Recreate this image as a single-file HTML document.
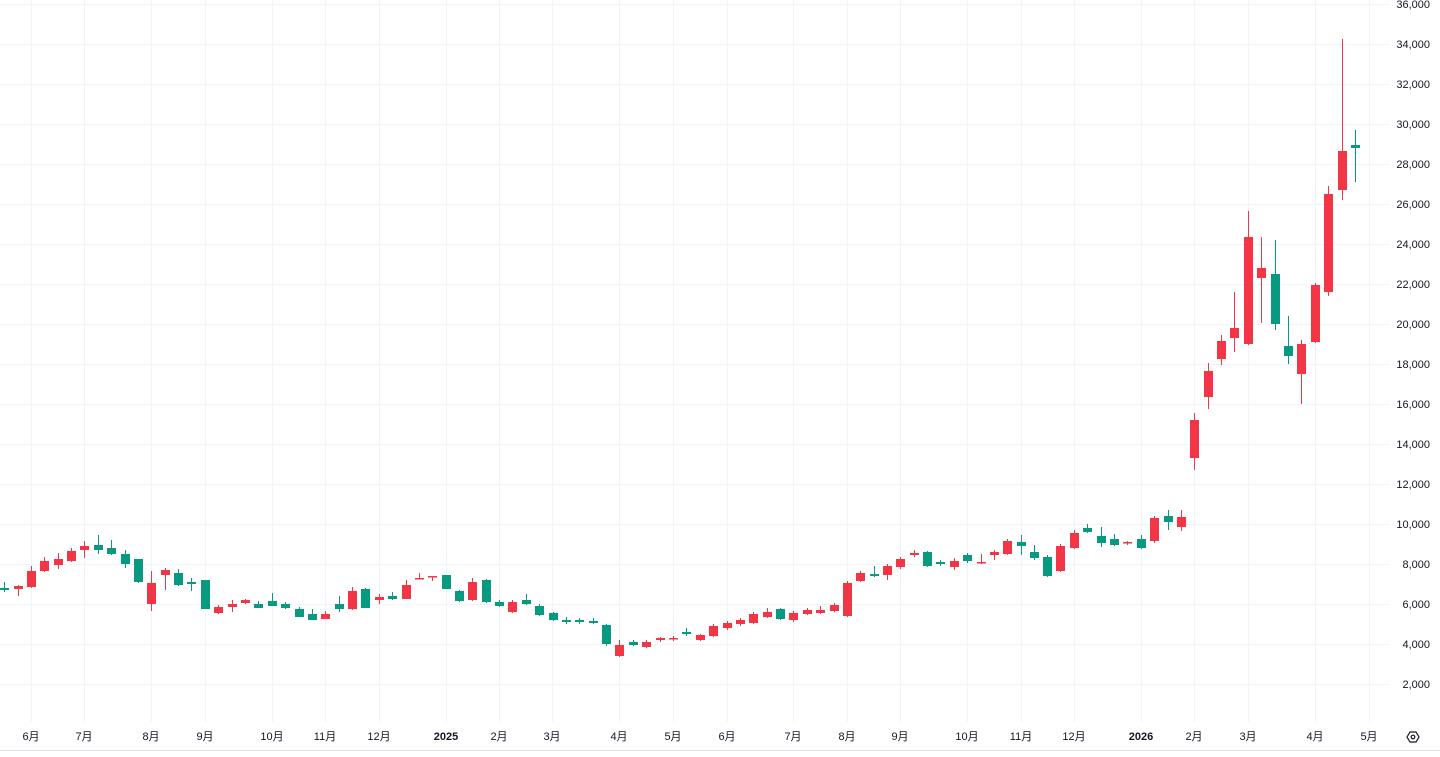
<!DOCTYPE html>
<html><head><meta charset="utf-8"><style>
html,body{margin:0;padding:0;background:#fff;width:1440px;height:757px;overflow:hidden}
svg{display:block}
text{font-family:"Liberation Sans","Noto Sans CJK SC",sans-serif;font-size:11px;fill:#131722}
</style></head><body>
<svg id="c" width="1440" height="757" xmlns="http://www.w3.org/2000/svg">
<g id="grid" stroke="#f0f3fa" stroke-width="1"></g>
<g id="candles"></g>
<line x1="0" y1="750.5" x2="1440" y2="750.5" stroke="#e0e3eb"/>
<g text-anchor="end">
<text x="1430" y="8">36,000</text><text x="1430" y="48">34,000</text><text x="1430" y="88">32,000</text>
<text x="1430" y="128">30,000</text><text x="1430" y="168">28,000</text><text x="1430" y="208">26,000</text>
<text x="1430" y="248">24,000</text><text x="1430" y="288">22,000</text><text x="1430" y="328">20,000</text>
<text x="1430" y="368">18,000</text><text x="1430" y="408">16,000</text><text x="1430" y="448">14,000</text>
<text x="1430" y="488">12,000</text><text x="1430" y="528">10,000</text><text x="1430" y="568">8,000</text>
<text x="1430" y="608">6,000</text><text x="1430" y="648">4,000</text><text x="1430" y="688">2,000</text>
</g>
<g text-anchor="middle">
<text x="31" y="740">6月</text><text x="84" y="740">7月</text><text x="151" y="740">8月</text>
<text x="205" y="740">9月</text><text x="272" y="740">10月</text><text x="325" y="740">11月</text>
<text x="379" y="740">12月</text><text x="446" y="740" font-weight="bold">2025</text><text x="499" y="740">2月</text>
<text x="552" y="740">3月</text><text x="619" y="740">4月</text><text x="673" y="740">5月</text>
<text x="727" y="740">6月</text><text x="793" y="740">7月</text><text x="847" y="740">8月</text>
<text x="900" y="740">9月</text><text x="967" y="740">10月</text><text x="1021" y="740">11月</text>
<text x="1074" y="740">12月</text><text x="1141" y="740" font-weight="bold">2026</text><text x="1194" y="740">2月</text>
<text x="1248" y="740">3月</text><text x="1315" y="740">4月</text><text x="1369" y="740">5月</text>
</g>
<polygon points="1407,737 1410,732 1416,732 1419,737 1416,742 1410,742" fill="none" stroke="#131722" stroke-width="1.2"/>
<circle cx="1413" cy="737" r="1.8" fill="none" stroke="#131722" stroke-width="1.2"/>
</svg>
<script>
var ns="http://www.w3.org/2000/svg";
var g=document.getElementById("grid");
function ln(p,x1,y1,x2,y2,c,w){var l=document.createElementNS(ns,"line");l.setAttribute("x1",x1);l.setAttribute("y1",y1);l.setAttribute("x2",x2);l.setAttribute("y2",y2);if(c)l.setAttribute("stroke",c);if(w)l.setAttribute("stroke-width",w);p.appendChild(l);}
for(var y=4;y<=684;y+=40)ln(g,0,y+.5,1390,y+.5);
[31,84,151,205,272,325,379,446,499,552,619,673,727,793,847,900,967,1021,1074,1141,1194,1248,1315,1369].forEach(function(x){ln(g,x+.5,0,x+.5,722);});
// x, bodyTop, bodyBot, wickTop, wickBot, up(1=red)
var d=[
[4,588,590,582,592,0],[18,586,589,585,596,1],[31,571,587,566,588,1],[44,561,571,557,572,1],[58,559,565,553,569,1],[71,551,561,548,562,1],
[84,546,550,541,558,1],[98,545,550,535,554,0],[111,548,554,540,555,0],[125,554,564,550,568,0],[138,559,582,559,583,0],[151,583,604,571,611,1],
[165,570,575,568,590,1],[178,573,585,569,586,0],[191,582,584,578,591,0],[205,580,609,580,609,0],[218,607,613,605,614,1],[232,604,607,600,612,1],
[245,600,603,599,604,1],[258,604,608,601,608,0],[272,601,606,593,606,0],[285,604,608,602,609,0],[299,609,617,607,617,0],[312,614,620,609,620,0],
[325,614,619,611,619,1],[339,604,609,596,612,0],[352,591,609,587,610,1],[365,589,608,588,608,0],[379,597,600,594,604,1],[392,596,599,592,600,0],
[406,585,599,580,599,1],[419,578,579,573,579,1],[432,576,577,576,581,1],[446,575,589,575,589,0],[459,591,601,590,602,0],[472,582,600,578,601,1],
[486,580,602,579,603,0],[499,602,606,600,607,0],[512,602,612,600,613,1],[526,600,604,594,605,0],[539,606,615,604,616,0],[553,613,620,612,621,0],
[566,620,622,617,624,0],[579,620,622,618,624,0],[593,621,623,618,624,0],[606,625,644,624,646,0],[619,645,656,640,657,1],[633,642,645,640,646,0],
[646,642,647,640,648,1],[660,638,640,637,642,1],[673,638,639,636,641,1],[686,632,634,628,636,0],[700,635,640,634,641,1],[713,626,636,624,637,1],
[727,623,628,621,630,1],[740,620,624,618,626,1],[753,614,623,612,624,1],[767,612,617,608,618,1],[780,609,619,608,620,0],[793,613,620,611,622,1],
[807,610,614,608,615,1],[820,610,613,606,614,1],[834,605,611,603,612,1],[847,583,616,581,617,1],[860,573,581,571,582,1],[874,574,576,566,577,0],
[887,566,575,564,580,1],[900,559,567,557,569,1],[914,553,555,550,557,1],[927,552,566,551,567,0],[940,562,564,560,566,0],[954,561,567,558,570,1],
[967,555,561,553,563,0],[981,562,563,554,564,1],[994,552,555,550,560,1],[1007,541,554,539,555,1],[1021,542,546,535,555,0],[1034,552,558,545,560,0],
[1047,557,576,555,577,0],[1060,546,571,544,572,1],[1074,533,548,530,549,1],[1087,528,532,524,533,0],[1101,536,543,527,547,0],[1114,539,545,534,546,0],
[1127,542,543,541,545,1],[1141,539,548,535,549,0],[1154,518,541,516,543,1],[1168,516,522,510,530,0],[1181,517,527,510,531,1],
[1194,420,458,413,470,1],[1208,371,397,363,409,1],[1221,341,359,335,365,1],[1234,328,338,292,352,1],[1248,237,344,211,345,1],[1261,268,278,237,323,1],
[1275,274,324,240,330,0],[1288,346,356,316,364,0],[1301,344,374,340,404,1],[1315,285,342,283,343,1],[1328,194,292,186,296,1],[1342,151,190,39,200,1],
[1355,145,148,130,182,0]];
var cg=document.getElementById("candles");
d.forEach(function(c){var col=c[5]?"#f23645":"#089981";
ln(cg,c[0]+.5,c[3],c[0]+.5,c[4],col,1);
var r=document.createElementNS(ns,"rect");r.setAttribute("x",c[0]-4);r.setAttribute("y",c[1]);r.setAttribute("width",9);r.setAttribute("height",Math.max(1.5,c[2]-c[1]));r.setAttribute("fill",col);cg.appendChild(r);});
</script>
</body></html>
